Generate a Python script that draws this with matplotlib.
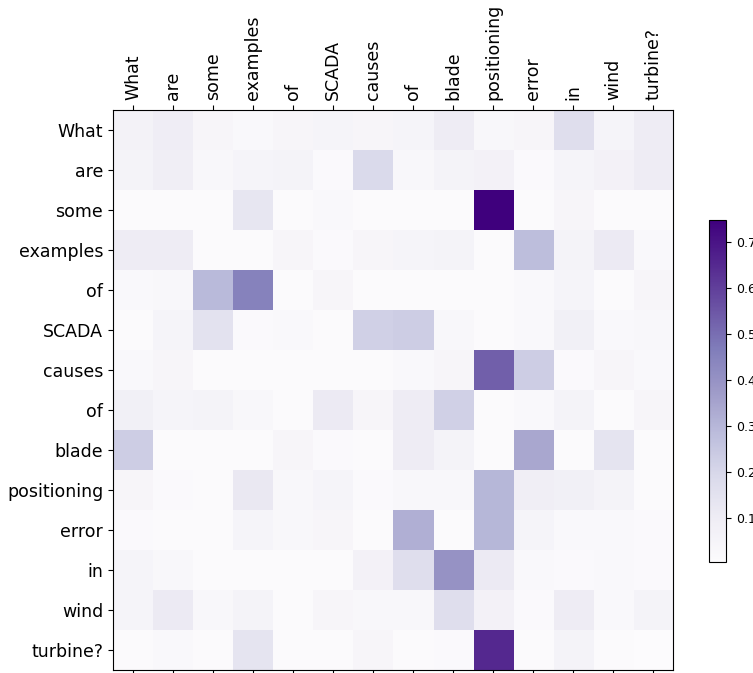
import matplotlib
matplotlib.use("Agg")
from matplotlib import pyplot as plt
import numpy as np

tokens = ["What", "are", "some", "examples", "of", "SCADA", "causes", "of",
          "blade", "positioning", "error", "in", "wind", "turbine?"]

# attention weights, one row per query token
row_what = [0.065, 0.095, 0.04, 0.02, 0.04, 0.05, 0.04, 0.05, 0.10, 0.03, 0.04, 0.17, 0.05, 0.10]
row_are = [0.06, 0.09, 0.03, 0.05, 0.06, 0.015, 0.19, 0.03, 0.06, 0.07, 0.015, 0.05, 0.07, 0.10]
row_some = [0.01, 0.01, 0.01, 0.13, 0.01, 0.02, 0.01, 0.01, 0.01, 0.747, 0.01, 0.04, 0.01, 0.01]
row_examples = [0.10, 0.10, 0.01, 0.01, 0.04, 0.015, 0.04, 0.05, 0.06, 0.01, 0.28, 0.06, 0.11, 0.02]
row_of1 = [0.02, 0.03, 0.29, 0.45, 0.01, 0.04, 0.01, 0.01, 0.01, 0.01, 0.02, 0.05, 0.01, 0.04]
row_scada = [0.01, 0.05, 0.15, 0.015, 0.02, 0.01, 0.22, 0.23, 0.03, 0.01, 0.02, 0.08, 0.02, 0.03]
row_causes = [0.02, 0.04, 0.01, 0.01, 0.01, 0.01, 0.01, 0.02, 0.04, 0.53, 0.23, 0.015, 0.04, 0.02]
row_of2 = [0.08, 0.05, 0.06, 0.03, 0.01, 0.11, 0.04, 0.10, 0.22, 0.01, 0.025, 0.06, 0.01, 0.04]
row_blade = [0.23, 0.01, 0.01, 0.01, 0.04, 0.015, 0.01, 0.10, 0.06, 0.01, 0.34, 0.01, 0.14, 0.01]
row_positioning = [0.04, 0.015, 0.01, 0.12, 0.03, 0.05, 0.015, 0.03, 0.03, 0.30, 0.09, 0.08, 0.06, 0.01]
row_error = [0.015, 0.01, 0.01, 0.05, 0.03, 0.04, 0.01, 0.32, 0.01, 0.30, 0.05, 0.025, 0.02, 0.015]
row_in = [0.05, 0.03, 0.01, 0.01, 0.01, 0.01, 0.07, 0.17, 0.40, 0.11, 0.02, 0.015, 0.02, 0.015]
row_wind = [0.05, 0.11, 0.03, 0.06, 0.01, 0.04, 0.03, 0.03, 0.17, 0.07, 0.015, 0.10, 0.02, 0.06]
row_turbine = [0.01, 0.025, 0.01, 0.14, 0.01, 0.01, 0.04, 0.01, 0.015, 0.65, 0.01, 0.06, 0.01, 0.005]

attn = np.array([row_what, row_are, row_some, row_examples, row_of1, row_scada,
                 row_causes, row_of2, row_blade, row_positioning, row_error,
                 row_in, row_wind, row_turbine])

fig = plt.figure(figsize=(7.53, 6.73), dpi=100)
ax = fig.add_axes([0.150, 0.0045, 0.744, 0.832])
im = ax.matshow(attn, cmap="Purples", aspect="auto")

ax.set_xticks(range(len(tokens)))
ax.set_yticks(range(len(tokens)))
ax.set_xticklabels(tokens, rotation=90, fontsize=12.5)
ax.set_yticklabels(tokens, fontsize=12.5)

cax = fig.add_axes([0.9416, 0.165, 0.0226, 0.508])
cb = fig.colorbar(im, cax=cax)
cb.set_ticks([0.1, 0.2, 0.3, 0.4, 0.5, 0.6, 0.7])
cb.ax.tick_params(labelsize=9)

fig.savefig("out.png", dpi=100)
